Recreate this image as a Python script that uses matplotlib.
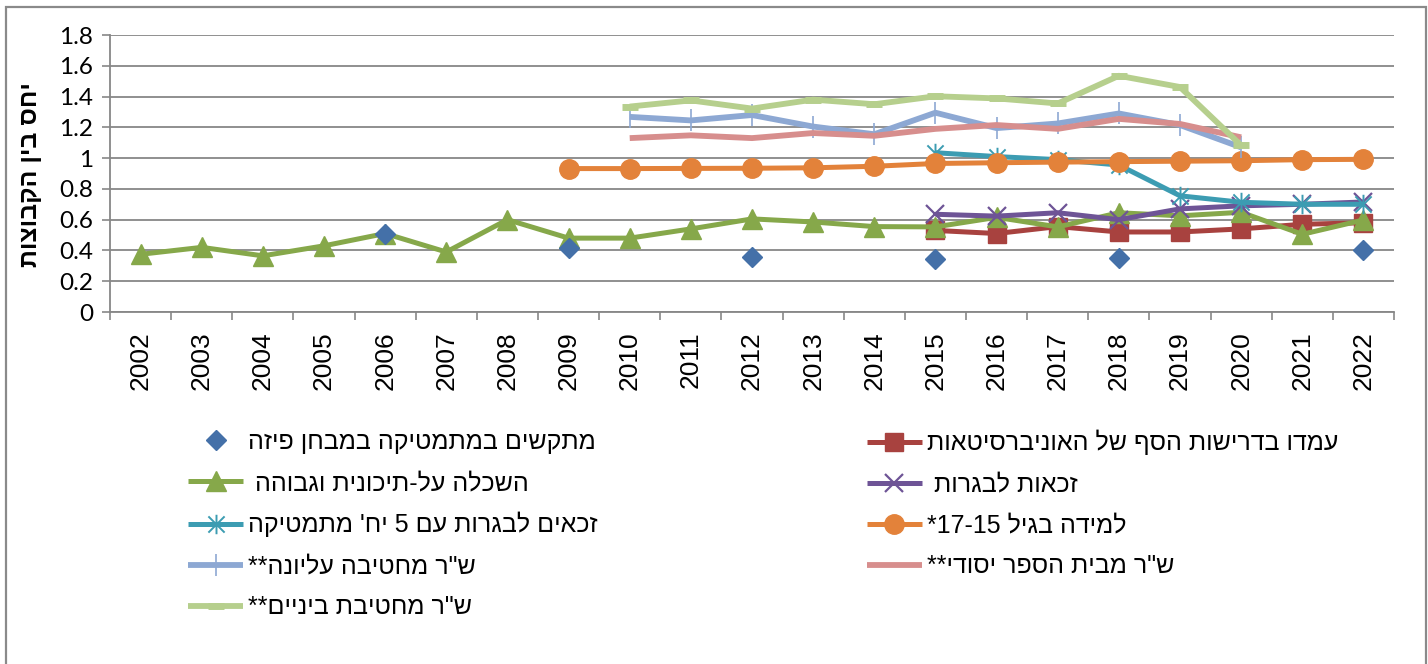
import re
import matplotlib
matplotlib.use("Agg")
import matplotlib.pyplot as plt
import matplotlib.patches as mpatches
from matplotlib.path import Path
import numpy as np

plt.rcParams['font.family'] = ['Liberation Sans', 'DejaVu Sans']

years = [str(y) for y in range(2002, 2023)]
yticks = [0, 0.2, 0.4, 0.6, 0.8, 1.0, 1.2, 1.4, 1.6, 1.8]
ytick_labels = ["0", "0.2", "0.4", "0.6", "0.8", "1", "1.2", "1.4", "1.6", "1.8"]

N = None
# מתקשים במתמטיקה במבחן פיזה (PISA, markers only)
pisa = [N, N, N, N, 0.51, N, N, 0.415, N, N, 0.358, N, N, 0.347, N, N, 0.351, N, N, N, 0.405]
# עמדו בדרישות הסף של האוניברסיטאות
univ = [N] * 13 + [0.53, 0.51, 0.555, 0.52, 0.52, 0.54, 0.57, 0.58]
# השכלה על-תיכונית וגבוהה
higher = [0.375, 0.42, 0.365, 0.43, 0.51, 0.39, 0.60, 0.48, 0.48, 0.54, 0.605, 0.585,
          0.555, 0.553, 0.615, 0.553, 0.645, 0.625, 0.648, 0.505, 0.598]
# זכאות לבגרות
bagrut = [N] * 13 + [0.635, 0.623, 0.645, 0.60, 0.67, 0.69, 0.70, 0.715]
# זכאים לבגרות עם 5 יח' מתמטיקה
math5 = [N] * 13 + [1.035, 1.01, 0.99, 0.955, 0.755, 0.713, 0.70, 0.70]
# למידה בגיל 15-17
learn = [N] * 7 + [0.932, 0.932, 0.933, 0.934, 0.937, 0.947, 0.965, 0.97, 0.974,
                   0.977, 0.98, 0.983, 0.99, 0.992]
# ש"ר מחטיבה עליונה
drop_high = [N] * 8 + [1.268, 1.245, 1.28, 1.205, 1.155, 1.295, 1.195, 1.225, 1.29,
                       1.215, 1.07, N, N]
# ש"ר מבית הספר יסודי
drop_elem = [N] * 8 + [1.13, 1.148, 1.13, 1.163, 1.145, 1.19, 1.215, 1.19, 1.255,
                       1.222, 1.135, N, N]
# ש"ר מחטיבת ביניים
drop_mid = [N] * 8 + [1.335, 1.375, 1.322, 1.38, 1.35, 1.402, 1.388, 1.355, 1.535,
                      1.462, 1.083, N, N]

labels = {
    "pisa": "מתקשים במתמטיקה במבחן פיזה",
    "univ": "עמדו בדרישות הסף של האוניברסיטאות",
    "higher": "השכלה על-תיכונית וגבוהה ",
    "bagrut": "זכאות לבגרות ",
    "math5": "זכאים לבגרות עם 5 יח' מתמטיקה",
    "learn": "למידה בגיל 15-17*",
    "drop_high": "ש\"ר מחטיבה עליונה**",
    "drop_elem": "ש\"ר מבית הספר יסודי**",
    "drop_mid": "ש\"ר מחטיבת ביניים**",
}
ylabel = "יחס בין הקבוצות"


def vis(s):
    r = s[::-1]
    return re.sub(r"[0-9]+", lambda m: m.group(0)[::-1], r)


def arr(v):
    return np.array([np.nan if x is None else x for x in v], dtype=float)


ast = Path([(-1, -1), (1, 1), (-1, 1), (1, -1), (0, -1.2), (0, 1.2)],
           [Path.MOVETO, Path.LINETO, Path.MOVETO, Path.LINETO, Path.MOVETO, Path.LINETO])

W, H = 1428, 664
fig = plt.figure(figsize=(W / 100, H / 100), dpi=100)
ax = fig.add_axes([110 / W, 1 - 312 / H, (1394 - 110) / W, (312 - 35) / H])
x = np.arange(len(years))

grid_c = "#878787"
styles = {
    "univ": dict(color="#A8423F", lw=3.6, marker="s", ms=13, mec="#A8423F", zorder=3),
    "higher": dict(color="#86A84A", lw=3.6, marker="^", ms=15, mec="#86A84A", zorder=4),
    "bagrut": dict(color="#6E5496", lw=3.6, marker="x", ms=13, mew=1.6, zorder=5),
    "math5": dict(color="#3C9CB2", lw=3.6, marker=ast, ms=14, mew=1.4, zorder=6),
    "learn": dict(color="#E3823A", lw=3.6, marker="o", ms=14, mec="#E3823A", zorder=7),
    "drop_high": dict(color="#8DA8D3", lw=4.2, marker="|", ms=16, mew=1.2, zorder=8),
    "drop_elem": dict(color="#D78E8D", lw=4.2, zorder=9),
    "drop_mid": dict(color="#B6CF8D", lw=4.2, marker="_", ms=12, mew=5, zorder=10),
}
data = {"univ": univ, "higher": higher, "bagrut": bagrut, "math5": math5, "learn": learn,
        "drop_high": drop_high, "drop_elem": drop_elem, "drop_mid": drop_mid}

handles = {}
for k, st in styles.items():
    st = dict(st)
    z = st.pop("zorder")
    h, = ax.plot(x, arr(data[k]), solid_capstyle="butt", zorder=z, **st)
    handles[k] = h
h, = ax.plot(x, arr(pisa), ls="none", marker="D", ms=10.5, color="#4470A8", zorder=12)
handles["pisa"] = h

ax.set_xlim(-0.5, len(years) - 0.5)
ax.set_ylim(0, 1.8)
ax.set_yticks(yticks)
ax.set_yticklabels(ytick_labels, fontsize=17.5, family=["Lato", "DejaVu Sans"])
ax.set_xticks(x)
ax.set_xticklabels(years, rotation=90, fontsize=19, family=["Liberation Sans"])
ax.set_xticks(np.arange(-0.5, len(years)), minor=True)
ax.tick_params(axis="x", which="major", length=0, pad=14)
ax.tick_params(axis="x", which="minor", length=6, color=grid_c, width=1.2, direction="out")
ax.tick_params(axis="y", length=6, color=grid_c, width=1.2, pad=6)
ax.yaxis.grid(True, color=grid_c, lw=1.3)
ax.set_axisbelow(True)
for s in ["top", "right"]:
    ax.spines[s].set_visible(False)
for s in ["left", "bottom"]:
    ax.spines[s].set_color(grid_c)
    ax.spines[s].set_linewidth(1.3)

fig.text(30 / W, 1 - 175 / H, vis(ylabel), rotation=90, fontsize=18, fontweight="bold",
         ha="center", va="center")

left_keys = ["pisa", "higher", "math5", "drop_high", "drop_mid"]
right_keys = ["univ", "bagrut", "learn", "drop_elem"]
common = dict(frameon=False, fontsize=18, handlelength=2.2, handletextpad=0.2,
              labelspacing=0.68, borderpad=0, borderaxespad=0, loc="upper left")
leg1 = fig.legend([handles[k] for k in left_keys], [vis(labels[k]) for k in left_keys],
                  bbox_to_anchor=(188 / W, 1 - 430 / H), **common)
leg2 = fig.legend([handles[k] for k in right_keys], [vis(labels[k]) for k in right_keys],
                  bbox_to_anchor=(867 / W, 1 - 430 / H), **common)

border = mpatches.Rectangle((6 / W, -0.05), (1426 - 6) / W, 1.05 - 7 / H,
                            transform=fig.transFigure, fill=False, ec="#8a8a8a", lw=1.6)
fig.add_artist(border)

fig.savefig("out.png", dpi=100)
